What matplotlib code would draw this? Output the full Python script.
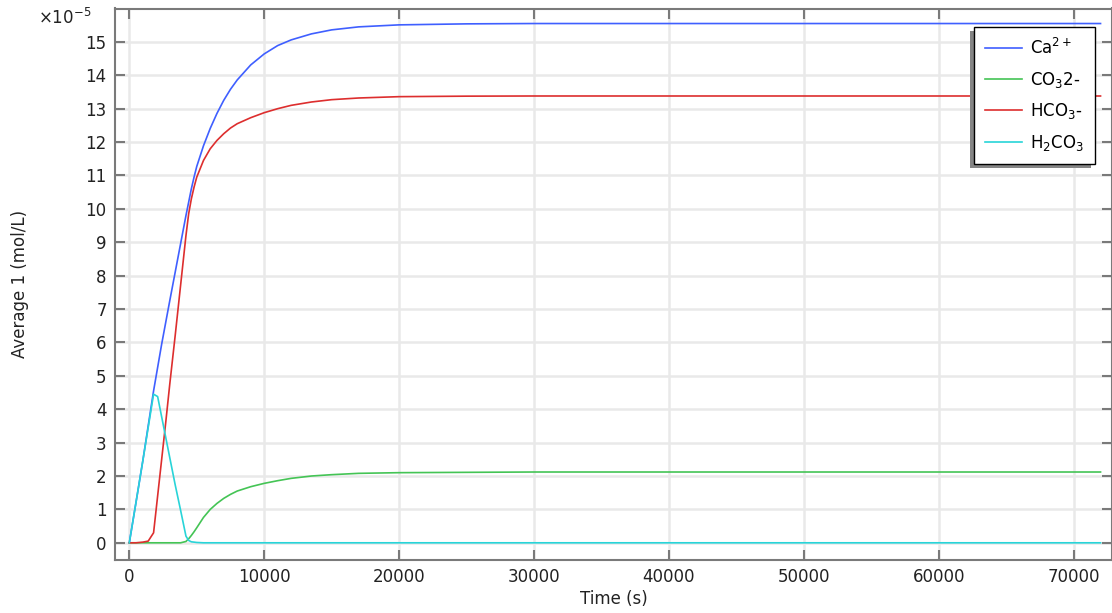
import matplotlib
matplotlib.use('Agg')
import matplotlib.pyplot as plt
from matplotlib.patches import Rectangle

# time (s) and concentrations in units of 1e-5 mol/L
time_s = [0, 500, 1000, 1400, 1800, 2100, 2400, 2700, 3000, 3400, 3800, 4200, 4400, 4600, 4800,
          5000, 5500, 6000, 6500, 7000, 7500, 8000, 9000, 10000, 11000, 12000, 13500, 15000,
          17000, 20000, 25000, 30000, 40000, 50000, 60000, 72000]
ca = [0, 1.22, 2.45, 3.5, 4.55, 5.25, 5.95, 6.6, 7.25, 8.1, 8.95, 9.8, 10.2, 10.6, 10.95,
      11.27, 11.89, 12.41, 12.86, 13.25, 13.58, 13.86, 14.31, 14.64, 14.89, 15.06, 15.24, 15.36,
      15.45, 15.51, 15.54, 15.55, 15.55, 15.55, 15.55, 15.55]
co3 = [0, 0, 0, 0, 0, 0, 0, 0, 0, 0, 0, 0.04, 0.12, 0.22, 0.33,
       0.45, 0.76, 1.0, 1.18, 1.33, 1.45, 1.55, 1.68, 1.78, 1.86, 1.93, 2.0, 2.04,
       2.08, 2.1, 2.11, 2.12, 2.12, 2.12, 2.12, 2.12]
hco3 = [0, 0, 0.02, 0.05, 0.3, 1.4, 2.5, 3.6, 4.75, 6.2, 7.7, 9.2, 9.85, 10.3, 10.65,
        10.95, 11.45, 11.8, 12.05, 12.25, 12.42, 12.55, 12.73, 12.88, 13.0, 13.1, 13.2, 13.27,
        13.32, 13.36, 13.375, 13.38, 13.38, 13.38, 13.38, 13.38]
h2co3 = [0, 1.22, 2.45, 3.45, 4.45, 4.38, 3.77, 3.16, 2.55, 1.74, 0.98, 0.2, 0.07, 0.03, 0.02,
         0.01, 0, 0, 0, 0, 0, 0, 0, 0, 0, 0, 0, 0,
         0, 0, 0, 0, 0, 0, 0, 0]

labels = ['Ca$^{2+}$', 'CO$_3$2-', 'HCO$_3$-', 'H$_2$CO$_3$']
colors = ['#3f5fff', '#44c455', '#dd2e2e', '#28d4d8']
x_ticks = [0, 10000, 20000, 30000, 40000, 50000, 60000, 70000]
y_ticks = list(range(0, 16))

W, H = 1112, 613
fig = plt.figure(figsize=(W / 100, H / 100), dpi=100)
ax = fig.add_axes([115 / W, 1 - 559.5 / H, (W - 115) / W, (559.5 - 8.5) / H])

for series, lab, col in zip([ca, co3, hco3, h2co3], labels, colors):
    ax.plot(time_s, series, color=col, lw=1.2, label=lab)

ax.set_xlim(-1060, 72850)
ax.set_ylim(-0.5, 16.0)
ax.set_xticks(x_ticks)
ax.set_yticks(y_ticks)
ax.grid(True, color='#e9e9e9', lw=1.8)
ax.set_axisbelow(True)

for s in ax.spines.values():
    s.set_color('#7a7a7a')
    s.set_linewidth(1.5)
ax.tick_params(direction='in', length=7, width=1.5, color='#7a7a7a',
               top=True, right=True, labelsize=12, labelcolor='#222222', pad=6)

ax.set_xlabel('Time (s)', fontsize=12, color='#222222', labelpad=3)
ax.set_ylabel('Average 1 (mol/L)', fontsize=12, color='#222222')
ax.yaxis.set_label_coords((29 - 115) / (W - 115), 0.5)
fig.text(38 / W, 1 - 18 / H, '×10$^{-5}$', fontsize=12, color='#222222', va='center', ha='left')

leg = ax.legend(loc='upper left', bbox_to_anchor=(974 / W, 1 - 27 / H),
                bbox_transform=fig.transFigure, fontsize=12, frameon=True, fancybox=False,
                edgecolor='black', framealpha=1, borderpad=0.65, labelspacing=0.7,
                handlelength=2.2, handletextpad=0.5, borderaxespad=0)
leg.get_frame().set_linewidth(1.0)
leg.set_zorder(10)

fig.canvas.draw()
bb = leg.get_window_extent()
shadow = Rectangle((bb.x0 - 4, bb.y0 - 4), bb.width, bb.height, transform=None,
                   facecolor='#858585', edgecolor='none', zorder=9, clip_on=False)
ax.add_artist(shadow)

fig.savefig('out.png', dpi=100)
